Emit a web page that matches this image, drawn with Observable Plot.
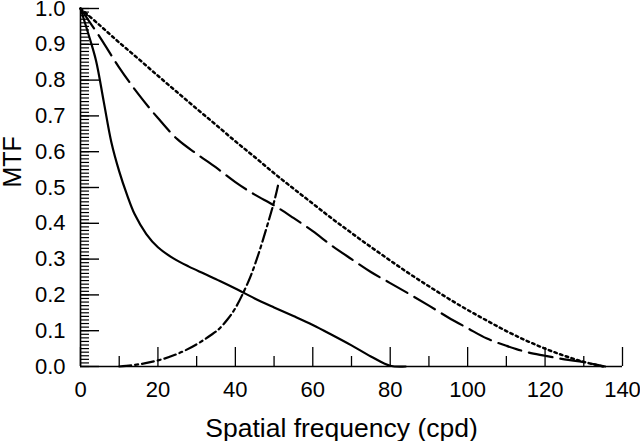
<!DOCTYPE html>
<html>
<head>
<meta charset="utf-8">
<script src="https://cdn.jsdelivr.net/npm/d3@7"></script>
<script src="https://cdn.jsdelivr.net/npm/@observablehq/plot@0.6"></script>
<style>
  html, body { margin: 0; padding: 0; background: #fff; }
  svg { font-family: 'Liberation Sans', Arial, Helvetica, sans-serif !important; }
</style>
</head>
<body>
<div id="chart"></div>
<script>
// Series
const dottedX = [0,5,10,15,20,25,30,35,40,45,50,55,60,65,70,75,80,85,90,95,100,105,110,115,120,125,130,135];
const dottedY = [1,0.953,0.905,0.859,0.812,0.766,0.72,0.675,0.629,0.585,0.54,0.497,0.455,0.413,0.373,0.334,0.296,0.259,0.224,0.19,0.158,0.128,0.099,0.073,0.05,0.03,0.013,0];

const dashedX = [0,5,10,15,20,25,30,35,40,45,50,55,60,65,70,75,80,85,90,95,100,105,110,115,120,125,130,135.5];
const dashedY = [1,0.92,0.835,0.76,0.694,0.635,0.594,0.556,0.515,0.48,0.45,0.415,0.378,0.337,0.3,0.264,0.233,0.202,0.17,0.137,0.107,0.078,0.058,0.041,0.03,0.02,0.012,0];

const solidX = [0,2,4,6,8,10,12,14,17,20,24,28,32,36,40,45,50,55,60,65,70,75,80,84];
const solidY = [1,0.93,0.855,0.74,0.625,0.545,0.48,0.425,0.37,0.333,0.302,0.279,0.259,0.239,0.218,0.19,0.165,0.141,0.116,0.088,0.059,0.028,0.002,0];

const dashDotX = [10,15,20,25,30,34,36,38,40,42,44,46,48,50,51];
const dashDotY = [0,0.006,0.017,0.035,0.062,0.09,0.107,0.132,0.163,0.205,0.254,0.315,0.385,0.46,0.505];

const xMajor = [0,20,40,60,80,100,120,140];
const xMinor = [10,30,50,70,90,110,130];
const yMajor = [0,0.1,0.2,0.3,0.4,0.5,0.6,0.7,0.8,0.9,1.0];
const yMinor = d3.range(0, 101).map(i => i / 100);
const xTitle = "Spatial frequency (cpd)";
const yTitle = "MTF";

const toRows = (xs, ys) => xs.map((x, i) => ({x, y: ys[i]}));

const W = 640, H = 441, ML = 80, MR = 18, MT = 8, MB = 75;
const plotW = W - ML - MR, plotH = H - MT - MB;
const xMax = 140;
const majorLenX = 19 * xMax / plotW;
const minorLenX = 9 * xMax / plotW;

const chart = Plot.plot({
  width: W,
  height: H,
  marginLeft: ML,
  marginRight: MR,
  marginTop: MT,
  marginBottom: MB,
  x: {domain: [0, xMax]},
  y: {domain: [0, 1]},
  marks: [
    Plot.axisY(yMajor, {tickSize: 0, tickPadding: 15, fontSize: 22, tickFormat: d3.format(".1f"), label: null}),
    Plot.axisX(xMajor, {tickSize: 0, tickPadding: 15, fontSize: 22, label: null}),
    Plot.text([xTitle], {frameAnchor: "bottom", lineAnchor: "bottom", dy: 70, dx: -10, fontSize: 26.5}),
    Plot.text([yTitle], {frameAnchor: "left", rotate: -90, dx: -68, fontSize: 25}),
    // inward y ticks
    Plot.ruleY(yMinor, {x1: 0, x2: minorLenX, stroke: "black", strokeWidth: 1.2}),
    Plot.ruleY(yMajor, {x1: 0, x2: majorLenX, stroke: "black", strokeWidth: 1.4}),
    // inward x ticks
    Plot.tickX(xMajor, {x: d => d, insetTop: plotH - 19, strokeWidth: 1.3}),
    Plot.tickX(xMinor, {x: d => d, insetTop: plotH - 10, strokeWidth: 1.3}),
    Plot.ruleX([0], {strokeWidth: 1.6}),
    Plot.ruleY([0], {strokeWidth: 1.6}),
    Plot.line(toRows(dottedX, dottedY), {x: "x", y: "y", strokeWidth: 2.5, strokeDasharray: "2.5,3.5", curve: "catmull-rom"}),
    Plot.line(toRows(dashedX, dashedY), {x: "x", y: "y", strokeWidth: 2.2, strokeDasharray: "24,8", curve: "catmull-rom"}),
    Plot.line(toRows(solidX, solidY), {x: "x", y: "y", strokeWidth: 2.2, curve: "catmull-rom"}),
    Plot.line(toRows(dashDotX, dashDotY), {x: "x", y: "y", strokeWidth: 2.2, strokeDasharray: "12,4,3,4", curve: "natural"})
  ]
});
document.getElementById("chart").appendChild(chart);
</script>
</body>
</html>
